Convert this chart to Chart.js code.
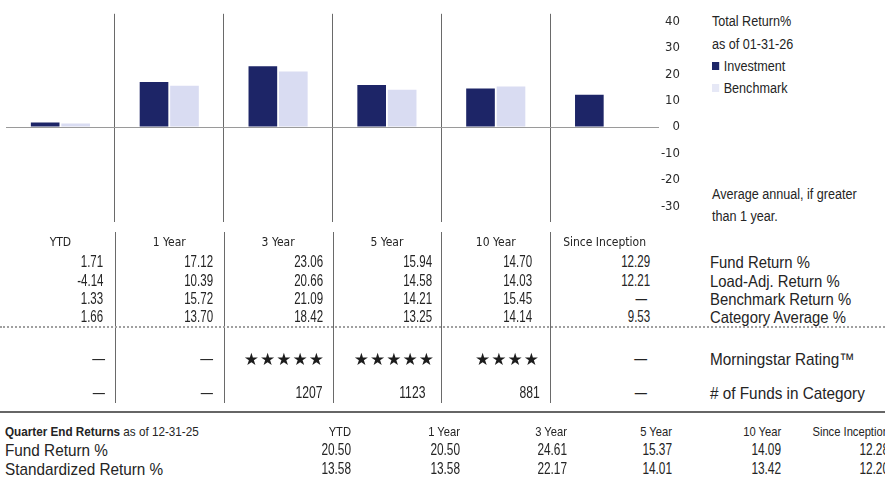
<!DOCTYPE html>
<html>
<head>
<meta charset="utf-8">
<script src="https://cdn.jsdelivr.net/npm/chart.js@4.4.1/dist/chart.umd.min.js"></script>
<style>
  html, body { margin: 0; padding: 0; background: #fff; }
  body {
    width: 885px; height: 497px; position: relative; overflow: hidden;
    font-family: "Liberation Sans", Arial, sans-serif;
    color: #242424;
  }
  #chartBox { position: absolute; left: 0; top: 0; width: 680px; height: 252px; }
  .t { position: absolute; white-space: nowrap; line-height: 1; }
  .val { font-size: 16px; }
  .lbl { font-size: 16.5px; }
  .lbl2 { font-size: 17px; }
  .leg { font-size: 14px; }
  .hdr { font-size: 13px; }
  .star { font-family: "DejaVu Sans", sans-serif; font-size: 17px; letter-spacing: 1px; color: #1c1c1c; }
  .vline { position: absolute; width: 1px; background: #6a6a6a; }
  .sq { display: inline-block; width: 8px; height: 8px; margin-right: 5px; vertical-align: 1px; }
</style>
</head>
<body>
<div id="chartBox"><canvas id="chart" width="680" height="252"></canvas></div>
<div id="table"></div>
<script>
// 图表数据
const categories = ['YTD', '1 Year', '3 Year', '5 Year', '10 Year', 'Since Inception'];
const investment = [1.71, 17.12, 23.06, 15.94, 14.70, 12.29];
const benchmark = [1.33, 15.72, 21.09, 14.21, 15.45, null];
const yTicks = [40, 30, 20, 10, 0, -10, -20, -30];

// 表格数据
const fundReturn = ['1.71', '17.12', '23.06', '15.94', '14.70', '12.29'];
const loadAdjReturn = ['-4.14', '10.39', '20.66', '14.58', '14.03', '12.21'];
const benchmarkReturn = ['1.33', '15.72', '21.09', '14.21', '15.45', '—'];
const categoryAverage = ['1.66', '13.70', '18.42', '13.25', '14.14', '9.53'];
const ratingStars = [0, 0, 5, 5, 4, 0];
const fundsInCategory = ['—', '—', '1207', '1123', '881', '—'];
const rowLabels = ['Fund Return %', 'Load-Adj. Return %', 'Benchmark Return %', 'Category Average %', 'Morningstar Rating™', '# of Funds in Category'];

const qeColumns = ['YTD', '1 Year', '3 Year', '5 Year', '10 Year', 'Since Inception'];
const qeFundReturn = ['20.50', '20.50', '24.61', '15.37', '14.09', '12.28'];
const qeStandardized = ['13.58', '13.58', '22.17', '14.01', '13.42', '12.20'];

const tickFont = '"DejaVu Sans Condensed", "Liberation Sans", sans-serif';

const chart = new Chart(document.getElementById('chart'), {
    type: 'bar',
    data: {
        labels: categories,
        datasets: [
            { label: 'Investment', data: investment, backgroundColor: '#1d2567', categoryPercentage: 0.56, barPercentage: 0.94 },
            { label: 'Benchmark', data: benchmark, backgroundColor: '#d9dcf2', categoryPercentage: 0.56, barPercentage: 0.94 }
        ]
    },
    options: {
        responsive: false,
        animation: false,
        layout: { padding: { left: 6, top: 12, right: 0, bottom: 0 } },
        plugins: { legend: { display: false }, tooltip: { enabled: false } },
        scales: {
            x: {
                grid: {
                    offset: true,
                    drawTicks: false,
                    // 只画类别之间的分隔线
                    color: c => (c.index > 0 ? '#6a6a6a' : 'transparent')
                },
                border: { display: false },
                ticks: { font: { family: tickFont, size: 12 }, color: '#242424', padding: 14, maxRotation: 0, autoSkip: false },
                afterFit: a => { a.height = 30; }
            },
            y: {
                position: 'right',
                min: -36,
                max: 43,
                afterBuildTicks: a => { a.ticks = yTicks.map(v => ({ value: v })); },
                grid: {
                    drawTicks: false,
                    color: c => (c.tick && c.tick.value === 0 ? '#9a9a9a' : 'transparent')
                },
                border: { display: false },
                ticks: { crossAlign: 'far', padding: 6, font: { family: tickFont, size: 13 }, color: '#2a2a2a' },
                afterFit: a => { a.width = 21; }
            }
        }
    }
});

// 放置文字（sx 为横向压缩比例，模拟窄体字）
const table = document.getElementById('table');
function put(html, x, y, cls, align, sx) {
    const d = document.createElement('div');
    d.className = 't ' + cls;
    d.innerHTML = html;
    d.style.top = y + 'px';
    const s = sx || 1;
    if (align === 'right') {
        d.style.right = (885 - x) + 'px';
        d.style.transformOrigin = 'right center';
    } else {
        d.style.left = x + 'px';
        d.style.transformOrigin = 'left center';
    }
    d.style.transform = 'translateY(-50%) scaleX(' + s + ')';
    table.appendChild(d);
}
function hline(y, style) {
    const d = document.createElement('div');
    d.style.cssText = 'position:absolute;left:0;width:885px;top:' + y + 'px;' + style;
    table.appendChild(d);
}

// 图例
put('Total Return%', 712, 21, 'leg', 'left', 0.9);
put('as of 01-31-26', 712, 44, 'leg', 'left', 0.9);
put('<span class="sq" style="background:#1d2567"></span>Investment', 712, 66, 'leg', 'left', 0.9);
put('<span class="sq" style="background:#e6e8f6"></span>Benchmark', 712, 88, 'leg', 'left', 0.9);
put('Average annual, if greater', 712, 194, 'leg', 'left', 0.9);
put('than 1 year.', 712, 216, 'leg', 'left', 0.9);

// 分隔线，位置取自图表的类别轴
const xs = chart.scales.x;
const half = (xs.getPixelForValue(1) - xs.getPixelForValue(0)) / 2;
for (let i = 1; i < categories.length; i++) {
    const d = document.createElement('div');
    d.className = 'vline';
    d.style.left = Math.round(xs.getPixelForValue(i) - half) + 'px';
    d.style.top = '232px';
    d.style.height = '171px';
    table.appendChild(d);
}

// 上方表格
const valRight = [103, 213, 323, 432, 532, 650];
const rowsY = [262, 281, 299, 317];
[fundReturn, loadAdjReturn, benchmarkReturn, categoryAverage].forEach((row, r) => {
    row.forEach((v, i) => put(v, valRight[i] - (v === '—' ? 3 : 0), rowsY[r], 'val', 'right', 0.72));
});
hline(326, 'border-top:2px dotted #a0a0a0;');

const rateRight = [105, 213, 325, 435, 540, 647];
ratingStars.forEach((n, i) => {
    if (n > 0) put('★'.repeat(n), rateRight[i], 359, 'star', 'right');
    else put('—', rateRight[i], 359, 'val', 'right', 0.8);
});
const fundsRight = [105, 213, 323, 425, 540, 647];
fundsInCategory.forEach((v, i) => put(v, fundsRight[i], 393, 'val', 'right', 0.76));

[262, 281, 299, 317].forEach((y, i) => put(rowLabels[i], 710, y, 'lbl', 'left', 0.9));
put(rowLabels[4], 710, 359, 'lbl2', 'left', 0.9);
put(rowLabels[5], 710, 393, 'lbl2', 'left', 0.9);

hline(411, 'border-top:2px solid #666;');

// 季末收益
put('<b>Quarter End Returns</b> as of 12-31-25', 5, 431, 'hdr', 'left', 0.9);
put('Fund Return %', 5, 450, 'lbl2', 'left', 0.9);
put('Standardized Return %', 5, 469, 'lbl2', 'left', 0.9);
const qeRight = [351, 460, 567, 672, 781, 889];
qeColumns.forEach((c, i) => {
    put(c, qeRight[i], 431, 'hdr', 'right', 0.86);
    put(qeFundReturn[i], qeRight[i], 450, 'val', 'right', 0.74);
    put(qeStandardized[i], qeRight[i], 469, 'val', 'right', 0.74);
});
</script>
</body>
</html>
